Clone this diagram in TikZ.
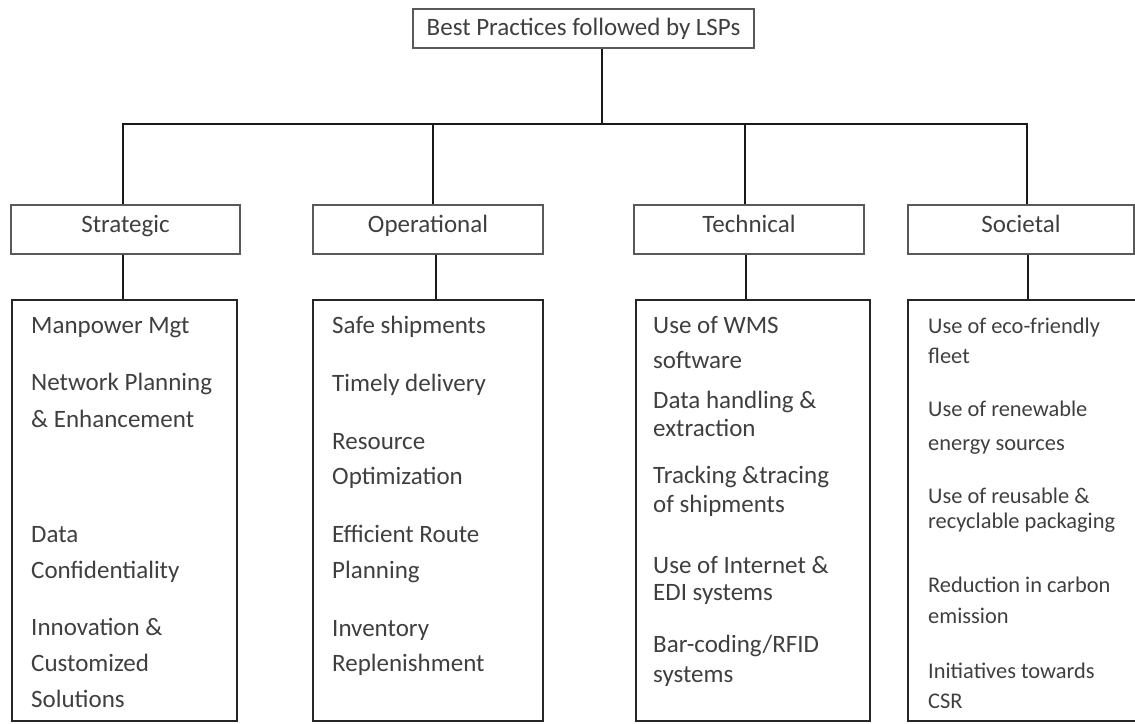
\documentclass[tikz,border=0pt]{standalone}
\usepackage{fontspec}
\setmainfont{Carlito}
\definecolor{ink}{HTML}{3F3F3F}
\begin{document}
\begin{tikzpicture}[x=1pt,y=-1pt,
  txt/.style={text=ink, font=\fontsize{25}{30}\selectfont, inner sep=0pt},
  headbox/.style={rectangle, draw=black!65, line width=1.1pt, txt, text height=11pt, text depth=6pt},
  listbox/.style={rectangle, draw=black!85, line width=1.7pt, inner sep=0pt},
  item/.style={txt, anchor=base west},
  smallitem/.style={item, font=\fontsize{22.4}{27}\selectfont},
  link/.style={draw=black!90, line width=1.8pt, line join=miter}]
\useasboundingbox (0,0) rectangle (1135,723);
\clip (0,0) rectangle (1135,723);

% root and the four groups
\node[headbox, text height=16pt, text depth=3pt, minimum width=341pt, minimum height=39pt] (root) at (583.5,28.5) {Best Practices followed by LSPs};
\node[headbox, minimum width=229pt, minimum height=49pt] (strat) at (125.5,229.5) {Strategic};
\node[headbox, minimum width=230pt, minimum height=49pt] (oper) at (428,229.5) {Operational};
\node[headbox, minimum width=230pt, minimum height=49pt] (tech) at (749,229.5) {Technical};
\node[headbox, minimum width=226pt, minimum height=49pt] (soc) at (1021,229.5) {Societal};

% list frames
\node[listbox, minimum width=225pt, minimum height=421pt] (stratlist) at (124.5,510.5) {};
\node[listbox, minimum width=230pt, minimum height=421pt] (operlist) at (428,510.5) {};
\node[listbox, minimum width=234pt, minimum height=421pt] (techlist) at (753,510.5) {};
\node[listbox, minimum width=232pt, minimum height=421pt] (soclist) at (1024,510.5) {};

% connectors
\coordinate (hub) at (602,124);
\coordinate (busL) at (123,124);
\coordinate (busO) at (433,124);
\coordinate (busT) at (745,124);
\coordinate (busR) at (1027,124);
\draw[link] (root.south -| hub) -- (hub);
\draw[link] (busL |- strat.north) -- (busL) -- (busR) -- (busR |- soc.north);
\draw[link] (busO) -- (busO |- oper.north);
\draw[link] (busT) -- (busT |- tech.north);
\draw[link] (busL |- strat.south) -- (busL |- stratlist.north);
\draw[link] ([xshift=3pt]busO |- oper.south) -- ([xshift=3pt]busO |- operlist.north);
\draw[link] ([xshift=1pt]busT |- tech.south) -- ([xshift=1pt]busT |- techlist.north);
\draw[link] ([xshift=1pt]busR |- soc.south) -- ([xshift=1pt]busR |- soclist.north);

% list entries
\foreach \y/\t [count=\i] in {333/Manpower Mgt, 390/Network Planning, 427/\& Enhancement,
    542/Data, 578/Confidentiality, 635/Innovation \&, 671/Customized, 707/Solutions}
  \node[item] (s\i) at (31,\y) {\t};
\foreach \y/\t [count=\i] in {333/Safe shipments, 391/Timely delivery, 449/Resource,
    484/Optimization, 542/Efficient Route, 578/Planning, 636/Inventory, 671/Replenishment}
  \node[item] (o\i) at (332,\y) {\t};
\foreach \y/\t [count=\i] in {333/Use of WMS, 368/software, 408/Data handling \&,
    436/extraction, 483/Tracking \&tracing, 512/of shipments, 573/Use of Internet \&,
    600/EDI systems, 652/{Bar-coding/RFID}, 682/systems}
  \node[item] (t\i) at (653,\y) {\t};
\foreach \y/\t [count=\i] in {333/Use of eco-friendly, 363/fleet, 416/Use of renewable,
    450/energy sources, 503/Use of reusable \&, 528/recyclable packaging,
    592/Reduction in carbon, 623/emission, 678/Initiatives towards, 708/CSR}
  \node[smallitem] (c\i) at (928,\y) {\t};
\end{tikzpicture}
\end{document}
